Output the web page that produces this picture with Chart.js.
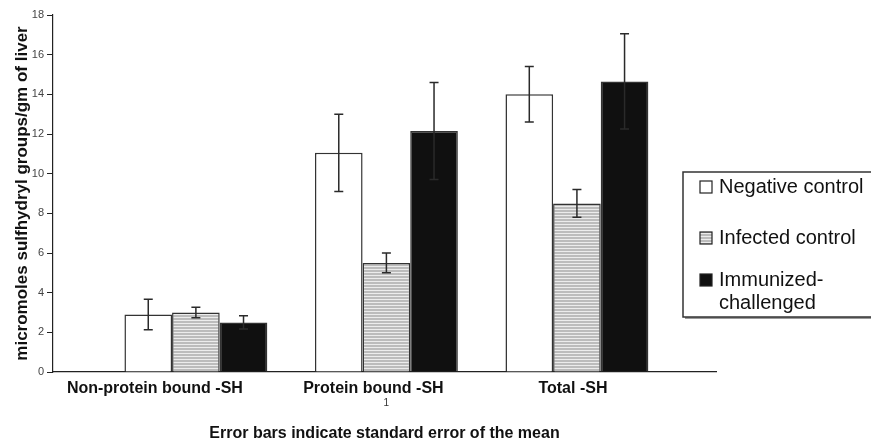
<!DOCTYPE html>
<html>
<head>
<meta charset="utf-8">
<script src="https://cdn.jsdelivr.net/npm/chart.js@4/dist/chart.umd.min.js"></script>
<style>
  html, body { margin: 0; padding: 0; background: #fff; }
  #wrap { width: 871px; height: 443px; }
</style>
</head>
<body>
<div id="wrap"><canvas id="chart" width="871" height="443"></canvas></div>
<script>
// values
const categories = ['Non-protein bound -SH', 'Protein bound -SH', 'Total -SH'];
const seriesNames = ['Negative control', 'Infected control', 'Immunized-challenged'];
const negativeControl = [2.9, 11.05, 14.0];
const negativeErr = [0.77, 1.95, 1.4];
const infectedControl = [3.0, 5.5, 8.5];
const infectedErr = [0.27, 0.5, 0.7];
const immunized = [2.5, 12.15, 14.65];
const immunizedErr = [0.33, 2.45, 2.4];
const yMin = 0, yMax = 18, yStep = 2;
const yTitle = 'micromoles sulfhydryl groups/gm of liver';
const xTitle = 'Error bars indicate standard error of the mean';
const axisNote = '1';

const FONT = "'Liberation Sans', Arial, sans-serif";

// grey bars have a fine horizontal hatch
function stripePattern() {
    const c = document.createElement('canvas');
    c.width = 4; c.height = 3;
    const g = c.getContext('2d');
    g.fillStyle = '#bcbcbc';
    g.fillRect(0, 0, 4, 3);
    g.fillStyle = '#ececec';
    g.fillRect(0, 2, 4, 1);
    return document.getElementById('chart').getContext('2d').createPattern(c, 'repeat');
}

const toPoints = arr => arr.map((v, i) => ({ x: i + 1, y: v }));
const errors = [negativeErr, infectedErr, immunizedErr];
const fills = ['#ffffff', stripePattern(), '#101010'];

const errorBars = {
    id: 'errorBars',
    afterDatasetsDraw(chart) {
        const ctx = chart.ctx;
        const y = chart.scales.y;
        ctx.save();
        ctx.strokeStyle = '#2a2a2a';
        ctx.lineWidth = 1.5;
        chart.data.datasets.forEach((ds, di) => {
            const meta = chart.getDatasetMeta(di);
            meta.data.forEach((bar, i) => {
                const v = ds.data[i].y, e = errors[di][i];
                const top = y.getPixelForValue(v + e);
                const bot = y.getPixelForValue(v - e);
                ctx.beginPath();
                ctx.moveTo(bar.x, top); ctx.lineTo(bar.x, bot);
                ctx.moveTo(bar.x - 4.5, top); ctx.lineTo(bar.x + 4.5, top);
                ctx.moveTo(bar.x - 4.5, bot); ctx.lineTo(bar.x + 4.5, bot);
                ctx.stroke();
            });
        });
        ctx.restore();
    }
};

// category names sit a little left of the bar groups, as in the source
const labelShift = [-41, -13, -4];
const categoryLabels = {
    id: 'categoryLabels',
    afterDraw(chart) {
        const ctx = chart.ctx;
        const x = chart.scales.x;
        const base = chart.chartArea.bottom;
        ctx.save();
        ctx.fillStyle = '#111';
        ctx.textAlign = 'center';
        ctx.textBaseline = 'middle';
        ctx.font = 'bold 16px ' + FONT;
        categories.forEach((name, i) => {
            ctx.fillText(name, x.getPixelForValue(i + 1) + labelShift[i], base + 17);
        });
        ctx.font = '10px ' + FONT;
        ctx.fillStyle = '#333';
        ctx.fillText(axisNote, x.getPixelForValue(2), base + 31);
        ctx.restore();
    }
};

const boxLegend = {
    id: 'boxLegend',
    afterDraw(chart) {
        const ctx = chart.ctx;
        const left = 683, top = 172, right = 884, bottom = 317;
        ctx.save();
        ctx.fillStyle = '#9a9a9a';
        ctx.fillRect(left + 2, top + 2, right - left, bottom - top);
        ctx.fillStyle = '#fff';
        ctx.fillRect(left, top, right - left, bottom - top);
        ctx.strokeStyle = '#333';
        ctx.lineWidth = 1.5;
        ctx.strokeRect(left, top, right - left, bottom - top);
        ctx.font = '20px ' + FONT;
        ctx.textBaseline = 'middle';
        const rows = [187, 238, 280];
        chart.data.datasets.forEach((ds, i) => {
            const yc = rows[i];
            ctx.fillStyle = ds.backgroundColor;
            ctx.fillRect(700, yc - 6, 12, 12);
            ctx.strokeStyle = '#222';
            ctx.lineWidth = 1.2;
            ctx.strokeRect(700, yc - 6, 12, 12);
            ctx.fillStyle = '#111';
            const lines = ds.label.split(/(?<=-)/);
            lines.forEach((t, k) => ctx.fillText(t, 719, yc + k * 23));
        });
        ctx.restore();
    }
};

const datasets = [negativeControl, infectedControl, immunized].map((vals, i) => ({
    label: seriesNames[i],
    data: toPoints(vals),
    backgroundColor: fills[i],
    borderColor: '#333',
    borderWidth: 1.5,
    categoryPercentage: 0.75,
    barPercentage: 1.0
}));

new Chart(document.getElementById('chart'), {
    type: 'bar',
    data: { datasets },
    options: {
        responsive: false,
        animation: false,
        devicePixelRatio: 1,
        layout: { padding: { left: 0, top: 15, right: 155, bottom: 0 } },
        plugins: { legend: { display: false }, tooltip: { enabled: false } },
        scales: {
            x: {
                type: 'linear',
                min: 0.25,
                max: 3.73,
                offset: false,
                // one tick per group so the bar width follows the group spacing
                afterBuildTicks(scale) {
                    scale.ticks = categories.map((c, i) => ({ value: i + 1 }));
                },
                ticks: { display: false },
                grid: { display: true, drawOnChartArea: false, drawTicks: false },
                border: { display: true, color: '#222', width: 1.2 },
                title: {
                    display: true,
                    text: xTitle,
                    color: '#111',
                    font: { family: FONT, size: 16, weight: 'bold' },
                    padding: { top: 0, bottom: 0 }
                },
                afterFit(scale) { scale.height = 71; }
            },
            y: {
                min: yMin,
                max: yMax,
                ticks: {
                    stepSize: yStep,
                    color: '#444',
                    padding: 3,
                    font: { family: FONT, size: 11 }
                },
                grid: { drawOnChartArea: false, tickLength: 6, color: '#222' },
                border: { display: true, color: '#222', width: 1.2 },
                title: {
                    display: true,
                    text: yTitle,
                    color: '#111',
                    font: { family: FONT, size: 17, weight: 'bold' },
                    padding: { top: 12, bottom: 0 }
                },
                afterFit(scale) { scale.width = 53; }
            }
        }
    },
    plugins: [errorBars, categoryLabels, boxLegend]
});
</script>
</body>
</html>
